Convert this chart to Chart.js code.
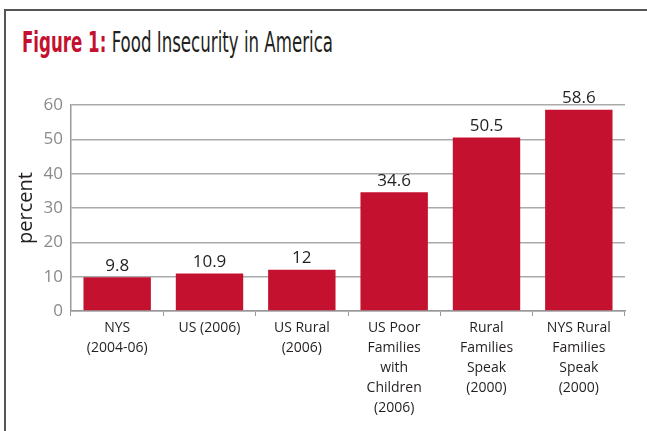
<!DOCTYPE html>
<html>
<head>
<meta charset="utf-8">
<script src="https://cdn.jsdelivr.net/npm/chart.js@4.4.0/dist/chart.umd.min.js"></script>
<style>
  html, body { margin: 0; padding: 0; background: #fff; }
  #wrap { position: relative; width: 647px; height: 431px; overflow: hidden; }
  #frame { position: absolute; left: 4px; top: 9px; width: 700px; height: 500px;
           border-left: 2px solid #555; border-top: 2px solid #555; }
  #title { position: absolute; left: 22px; top: 28px; white-space: nowrap;
           font-family: "Liberation Sans Narrow", "DejaVu Sans Condensed", sans-serif;
           font-size: 28px; line-height: 30px; color: #231f20; transform-origin: 0 0; }
  #title b { color: #c3112f; }
  canvas { position: absolute; left: 0; top: 0; }
</style>
</head>
<body>
<div id="wrap">
  <div id="frame"></div>
  <div id="title"><b>Figure 1:</b> Food Insecurity in America</div>
  <canvas id="bar-chart" width="647" height="431"></canvas>
</div>
<script>
// dati
var categorie = [
    ['NYS', '(2004-06)'],
    ['US (2006)'],
    ['US Rural', '(2006)'],
    ['US Poor', 'Families', 'with', 'Children', '(2006)'],
    ['Rural', 'Families', 'Speak', '(2000)'],
    ['NYS Rural', 'Families', 'Speak', '(2000)']
];
var valori = [9.8, 10.9, 12, 34.6, 50.5, 58.6];
var tickY = [0, 10, 20, 30, 40, 50, 60];

// title: squeeze to the condensed width of the original
var t = document.getElementById('title');
var w = t.getBoundingClientRect().width;
t.style.transform = 'scaleX(' + (311 / w) + ')';

var etichette = {
    id: 'etichette',
    afterDatasetsDraw: function(chart) {
        var ctx = chart.ctx;
        var meta = chart.getDatasetMeta(0);
        ctx.save();
        ctx.font = '17px "Open Sans", sans-serif';
        ctx.fillStyle = '#231f20';
        ctx.textAlign = 'center';
        ctx.textBaseline = 'bottom';
        meta.data.forEach(function(bar, i) {
            ctx.fillText(String(valori[i]), bar.x, bar.y - 3);
        });
        ctx.restore();
    }
};

var ctx = document.getElementById('bar-chart');
var chart = new Chart(ctx, {
    type: 'bar',
    data: {
        labels: categorie,
        datasets: [{
            data: valori,
            backgroundColor: '#c3112f',
            borderWidth: 0,
            categoryPercentage: 0.73,
            barPercentage: 1
        }]
    },
    options: {
        responsive: false,
        animation: false,
        layout: { padding: { left: 14, right: 22, top: 105, bottom: 0 } },
        plugins: { legend: { display: false }, tooltip: { enabled: false } },
        scales: {
            x: {
                afterFit: function(scale) { scale.height = 120; },
                grid: { drawOnChartArea: false, drawTicks: true, tickLength: 5, color: '#999', lineWidth: 1 },
                border: { color: '#999', width: 1.5 },
                ticks: {
                    color: '#231f20',
                    font: { family: '"Open Sans", sans-serif', size: 14, lineHeight: 1.43 },
                    maxRotation: 0,
                    autoSkip: false,
                    padding: 2
                }
            },
            y: {
                min: 0,
                max: 60,
                afterFit: function(scale) { scale.width = 57; },
                afterBuildTicks: function(scale) {
                    scale.ticks = tickY.map(function(v) { return { value: v }; });
                },
                grid: { color: '#aaa', lineWidth: 1.5, drawTicks: false },
                border: { color: '#999', width: 1.5 },
                ticks: {
                    color: '#8a8a8a',
                    font: { family: '"Open Sans", sans-serif', size: 17 },
                    padding: 8
                },
                title: {
                    display: true,
                    text: 'percent',
                    color: '#231f20',
                    font: { family: '"Open Sans", sans-serif', size: 20 },
                    padding: 0
                }
            }
        }
    },
    plugins: [etichette]
});
</script>
</body>
</html>
